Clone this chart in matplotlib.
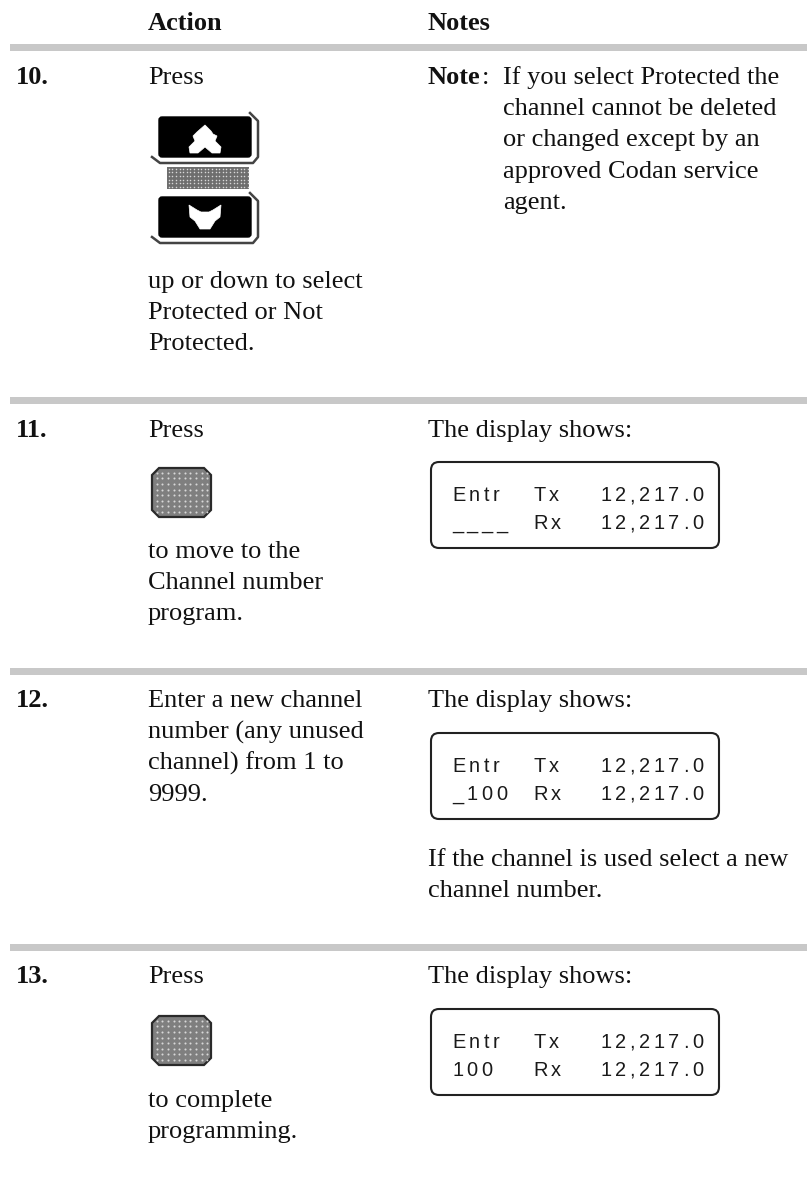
#!/usr/bin/env python3
"""Manual page: action / notes table with keypad icons and display boxes."""

import matplotlib
matplotlib.use("Agg")
import matplotlib.pyplot as plt
from matplotlib.patches import FancyBboxPatch, Polygon, Rectangle

SERIF = "Liberation Serif"
SANS = "Liberation Sans"

HEADERS = ["Action", "Notes"]
STEPS = ["10.", "11.", "12.", "13."]
PRESS = "Press"
ACTION_10 = ["up or down to select", "Protected or Not", "Protected."]
ACTION_11 = ["to move to the", "Channel number", "program."]
ACTION_12 = ["Enter a new channel", "number (any unused", "channel) from 1 to", "9999."]
ACTION_13 = ["to complete", "programming."]
NOTE_10 = ["If you select Protected the", "channel cannot be deleted",
           "or changed except by an", "approved Codan service", "agent."]
SHOWS = "The display shows:"
USED = ["If the channel is used select a new", "channel number."]
DISPLAY_11 = ["Entr", "Tx", "12,217.0", "____", "Rx", "12,217.0"]
DISPLAY_12 = ["Entr", "Tx", "12,217.0", "_100", "Rx", "12,217.0"]
DISPLAY_13 = ["Entr", "Tx", "12,217.0", "100", "Rx", "12,217.0"]

RULES_Y = [44, 397, 668, 944]
STEP_Y = [84, 437, 707, 983]
ACTION_X, NOTES_X = 148, 428
FS = 19
LINE = 31.2

# Arial-style advance widths in em, for the tracked display text
EM = {"E": .667, "n": .556, "t": .278, "r": .333, "T": .611, "x": .5, "R": .722,
      ",": .278, ".": .278}
DISPLAY_PX = 20
TRACK = 3.6


def para(ax, x, y, lines, **kw):
    for i, line in enumerate(lines):
        ax.text(x, y + i * LINE, line, family=SERIF, fontsize=FS, va="baseline", color="#111111", **kw)


def spaced(ax, x, y, s):
    for c in s:
        ax.text(x, y, c, family=SANS, fontsize=DISPLAY_PX * 0.72, va="baseline", ha="left", color="#1a1a1a")
        x += EM.get(c, .556) * DISPLAY_PX + TRACK


def display(ax, top, rows):
    ax.add_patch(FancyBboxPatch((431, top), 288, 86, boxstyle="round,pad=0,rounding_size=8",
                                fc="white", ec="#222222", lw=1.5))
    for y, row in zip((top + 39, top + 67), (rows[:3], rows[3:])):
        spaced(ax, 452, y, row[0])
        spaced(ax, 533, y, row[1])
        spaced(ax, 600, y, row[2])


def dots(ax, x0, x1, y0, y1, step, size, clip=None):
    xs, ys = [], []
    y = y0 + step / 2
    while y < y1:
        x = x0 + step / 2
        while x < x1:
            xs.append(x)
            ys.append(y)
            x += step
        y += step
    pts = ax.scatter(xs, ys, s=size, c="#d8d8d8", linewidths=0, marker="o")
    if clip is not None:
        pts.set_clip_path(clip)


def enter_key(ax, top):
    x0, x1, y0, y1 = 152, 211, top, top + 49
    pts = [(x0 + 7, y0), (x1 - 7, y0), (x1, y0 + 7), (x1, y1 - 7),
           (x1 - 7, y1), (x0 + 7, y1), (x0, y1 - 7), (x0, y0 + 7)]
    key = Polygon(pts, closed=True, fc="#7f7f7f", ec="#2a2a2a", lw=1.6)
    ax.add_patch(key)
    dots(ax, x0 + 2, x1 - 2, y0 + 2, y1 - 2, 5.6, 2.2, key)


def arrow_key(ax, top, glyph):
    ax.add_patch(FancyBboxPatch((159, top), 92, 40, boxstyle="round,pad=0,rounding_size=3",
                                fc="black", ec="black", lw=1))
    # bevel on the right and bottom edges
    ax.plot([250, 258, 258, 253, 160, 152], [top - 4, top + 4, top + 40, top + 46, top + 46, top + 40],
            color="#444444", lw=1.8)
    pts = [(205 + dx, top + dy) for dx, dy in glyph]
    ax.add_patch(Polygon(pts, closed=True, fc="white", ec="white", lw=0.5))


UP_GLYPH = [(0, 8), (6, 14), (8, 17), (12, 19), (10, 24), (16, 30), (15, 36), (7, 36), (0, 30),
            (-7, 36), (-15, 36), (-16, 30), (-10, 24), (-12, 19), (-8, 15)]
DOWN_GLYPH = [(-16, 8), (-8, 13), (-4, 15), (4, 15), (8, 13), (16, 8), (15, 20), (10, 24),
              (5, 32), (-5, 32), (-10, 24), (-15, 20)]


def main():
    fig = plt.figure(figsize=(8.07, 11.84), dpi=100)
    ax = fig.add_axes([0, 0, 1, 1])
    ax.set_xlim(0, 807)
    ax.set_ylim(1184, 0)
    ax.axis("off")

    para(ax, ACTION_X, 30, [HEADERS[0]], fontweight="bold")
    para(ax, NOTES_X, 30, [HEADERS[1]], fontweight="bold")
    for y in RULES_Y:
        ax.add_patch(Rectangle((10, y), 797, 7, fc="#c8c8c8", ec="none"))
    for step, y in zip(STEPS, STEP_Y):
        para(ax, 16, y, [step], fontweight="bold")

    # step 10
    para(ax, ACTION_X, STEP_Y[0], [PRESS])
    arrow_key(ax, 117, UP_GLYPH)
    ax.add_patch(Rectangle((167, 167), 82, 22, fc="#6e6e6e", ec="none"))
    dots(ax, 167, 249, 167, 189, 3.6, 1.2)
    arrow_key(ax, 197, DOWN_GLYPH)
    para(ax, ACTION_X, 288, ACTION_10)
    para(ax, NOTES_X, STEP_Y[0], ["Note"], fontweight="bold")
    para(ax, 482, STEP_Y[0], [":"])
    para(ax, 503, STEP_Y[0], NOTE_10)

    # step 11
    para(ax, ACTION_X, STEP_Y[1], [PRESS])
    enter_key(ax, 468)
    para(ax, ACTION_X, 558, ACTION_11)
    para(ax, NOTES_X, STEP_Y[1], [SHOWS])
    display(ax, 462, DISPLAY_11)

    # step 12
    para(ax, ACTION_X, STEP_Y[2], ACTION_12)
    para(ax, NOTES_X, STEP_Y[2], [SHOWS])
    display(ax, 733, DISPLAY_12)
    para(ax, NOTES_X, 866, USED)

    # step 13
    para(ax, ACTION_X, STEP_Y[3], [PRESS])
    enter_key(ax, 1016)
    para(ax, ACTION_X, 1107, ACTION_13)
    para(ax, NOTES_X, STEP_Y[3], [SHOWS])
    display(ax, 1009, DISPLAY_13)

    fig.savefig("out.png", dpi=100)


if __name__ == "__main__":
    main()
